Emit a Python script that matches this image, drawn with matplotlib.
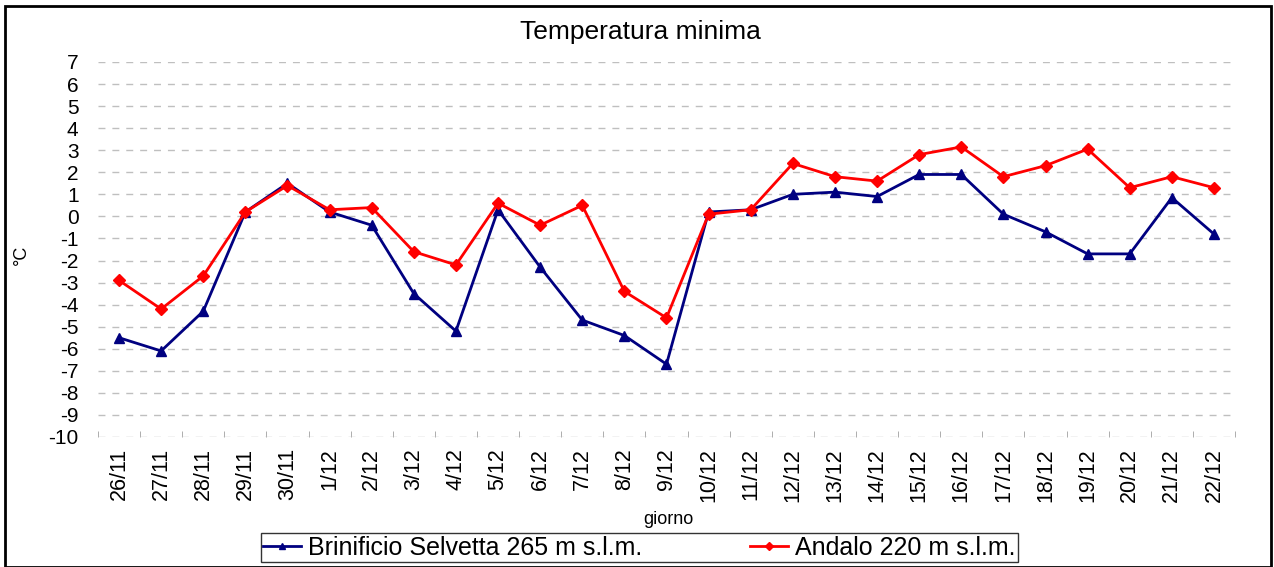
#Temperatura minima - Brinificio Selvetta vs Andalo

import numpy as np
from matplotlib import pyplot as plt
from matplotlib.patches import Rectangle

plt.rcParams['font.family'] = ['Liberation Sans', 'DejaVu Sans']
plt.rcParams['axes.unicode_minus'] = False

#DATA
giorni = ['26/11', '27/11', '28/11', '29/11', '30/11', '1/12', '2/12', '3/12', '4/12',
          '5/12', '6/12', '7/12', '8/12', '9/12', '10/12', '11/12', '12/12', '13/12',
          '14/12', '15/12', '16/12', '17/12', '18/12', '19/12', '20/12', '21/12', '22/12']

selvetta = [-5.5, -6.1, -4.3, 0.2, 1.5, 0.2, -0.4, -3.5, -5.2,
            0.3, -2.3, -4.7, -5.4, -6.7, 0.2, 0.3, 1.0, 1.1,
            0.9, 1.9, 1.9, 0.1, -0.7, -1.7, -1.7, 0.85, -0.8]

andalo = [-2.9, -4.2, -2.7, 0.2, 1.4, 0.3, 0.4, -1.6, -2.2,
          0.6, -0.4, 0.5, -3.4, -4.6, 0.1, 0.3, 2.4, 1.8,
          1.6, 2.8, 3.15, 1.8, 2.3, 3.05, 1.3, 1.8, 1.3]

label_selvetta = 'Brinificio Selvetta 265 m s.l.m.'
label_andalo = 'Andalo 220 m s.l.m.'

fig = plt.figure(figsize=(12.74, 5.67), dpi=100)
ax = fig.add_axes([0.0769, 0.2293, 0.8925, 0.6614])

x = np.arange(len(giorni))
ax.plot(x, selvetta, color='#000080', lw=2, marker='^', ms=7, label=label_selvetta)
ax.plot(x, andalo, color='#ff0000', lw=2, marker='D', ms=6, label=label_andalo)

ax.set_xlim(-0.5, len(giorni) - 0.5)
ax.set_ylim(-10, 7)
ax.set_yticks(np.arange(-10, 8, 1))
ax.set_xticks(x)
ax.set_xticklabels(giorni, rotation=90, fontsize=15.5)
ax.set_xticks(np.arange(-0.5, len(giorni), 1), minor=True)

ax.tick_params(axis='y', length=0, pad=14, labelsize=15)
ax.tick_params(axis='x', which='major', length=0, pad=8)
ax.tick_params(axis='x', which='minor', direction='in', length=4, color='#a0a0a0')

for s in ax.spines.values():
    s.set_visible(False)
ax.grid(axis='y', color='#bfbfbf', linestyle=(0, (5, 5)), lw=1)
ax.set_axisbelow(True)

fig.text(0.503, 0.944, 'Temperatura minima', fontsize=19, ha='center', va='center')
fig.text(0.017, 0.55, '°C', rotation=90, fontsize=13, ha='center', va='center')
fig.text(0.525, 0.083, 'giorno', fontsize=13, ha='center', va='center')

leg = fig.legend(loc='center', bbox_to_anchor=(0.502, 0.034), ncol=2, fontsize=18,
                 frameon=True, fancybox=False, edgecolor='black', borderpad=0.1,
                 columnspacing=4.3, handlelength=1.5, handletextpad=0.3, markerscale=0.7)
leg.get_frame().set_linewidth(1)

fig.patches.append(Rectangle((0.004, 0.0), 0.994, 0.99, transform=fig.transFigure,
                             fill=False, edgecolor='black', lw=2))

plt.savefig('out.png', dpi=100)
